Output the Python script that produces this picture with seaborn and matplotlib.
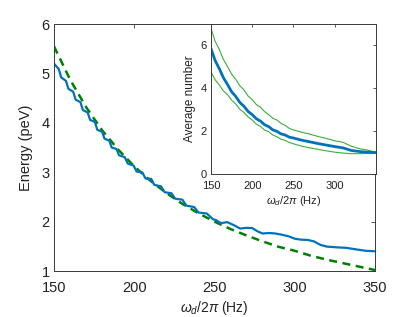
import numpy as np
import pandas as pd
import matplotlib
matplotlib.use("Agg")
import matplotlib.pyplot as plt
import seaborn as sns

# main panel: energy vs drive frequency
freq_blue = [150, 153, 154.5, 157.5, 159, 162, 163.5, 166.5, 168, 171, 172.5, 175.5,
             177, 180, 181.5, 184.5, 186, 189, 190.5, 194.1, 196, 199.6, 201.5, 205.1,
             207, 210.6, 212.5, 216.7, 219, 223.2, 225.5, 230, 232.5, 237.4, 240, 245.2,
             249, 251, 254, 258, 262, 266, 270, 273.5, 277, 280, 284, 288, 292, 296,
             300, 304, 308, 312, 316, 320, 326, 332, 338, 344, 350]
energy_blue = [5.20, 5.09, 4.92, 4.85, 4.69, 4.63, 4.47, 4.42, 4.26, 4.21, 4.06, 4.02,
               3.86, 3.82, 3.68, 3.64, 3.50, 3.47, 3.345, 3.305, 3.175, 3.135, 3.015, 2.995,
               2.875, 2.865, 2.745, 2.715, 2.595, 2.575, 2.465, 2.445, 2.325, 2.295, 2.185, 2.165,
               2.05, 2.03, 1.97, 1.99, 1.93, 1.86, 1.875, 1.87, 1.80, 1.76, 1.77, 1.76, 1.735, 1.705,
               1.655, 1.635, 1.63, 1.60, 1.53, 1.495, 1.48, 1.47, 1.44, 1.41, 1.40]

freq_green = [150, 160, 170, 180, 190, 200, 210, 220, 230, 240, 250,
              260, 270, 280, 290, 300, 310, 320, 330, 340, 350]
energy_green = [5.55, 4.88, 4.32, 3.85, 3.46, 3.12, 2.83, 2.58, 2.36, 2.17, 2.00,
                1.85, 1.72, 1.60, 1.49, 1.41, 1.31, 1.23, 1.16, 1.09, 1.02]

# inset: average number
freq_inset = [150, 155, 160, 165, 170, 175, 180, 185, 190, 195, 200, 205, 210, 215,
              220, 225, 230, 235, 240, 245, 250, 260, 270, 280, 290, 300, 310, 320,
              330, 340, 350]
n_mean = [5.85, 5.30, 4.92, 4.50, 4.18, 3.84, 3.62, 3.34, 3.16, 2.92, 2.77, 2.58, 2.47, 2.30,
          2.21, 2.06, 1.99, 1.87, 1.82, 1.72, 1.68, 1.58, 1.50, 1.42, 1.35, 1.28,
          1.22, 1.10, 1.05, 1.02, 1.00]
n_upper = [6.80, 6.20, 5.82, 5.35, 5.02, 4.66, 4.42, 4.12, 3.92, 3.64, 3.47, 3.24, 3.12, 2.91,
           2.77, 2.60, 2.52, 2.36, 2.27, 2.13, 2.06, 1.95, 1.86, 1.75, 1.66, 1.55,
           1.48, 1.30, 1.18, 1.12, 1.00]
n_lower = [4.76, 4.40, 4.16, 3.88, 3.71, 3.45, 3.27, 3.02, 2.87, 2.66, 2.52, 2.33, 2.22, 2.05,
           1.97, 1.82, 1.74, 1.62, 1.57, 1.47, 1.41, 1.30, 1.22, 1.15, 1.08, 1.02,
           0.98, 0.95, 0.95, 0.96, 0.99]

main_ticks_x = [150, 200, 250, 300, 350]
main_ticks_y = [1, 2, 3, 4, 5, 6]
inset_ticks_x = [150, 200, 250, 300]
inset_ticks_y = [0, 2, 4, 6]

BLUE = "#0072BD"
DGREEN = "#008000"
LGREEN = "#3cae3c"
AXC = "#3a3a3a"


def style_axes(ax, size):
    for s in ax.spines.values():
        s.set_color(AXC)
        s.set_linewidth(0.7)
    ax.tick_params(direction="in", top=True, right=True, length=3, width=0.6,
                   color=AXC, labelsize=size, labelcolor="#222222")


def main():
    sns.set_style("white")
    plt.rcParams["font.family"] = ["Liberation Sans", "DejaVu Sans"]
    plt.rcParams["mathtext.fontset"] = "custom"
    plt.rcParams["mathtext.rm"] = "Liberation Sans"
    plt.rcParams["mathtext.it"] = "Liberation Sans:italic"

    fig = plt.figure(figsize=(4.15, 3.17), dpi=100)
    ax = fig.add_axes([0.130, 0.145, 0.7736, 0.779])

    df_b = pd.DataFrame({"f": freq_blue, "E": energy_blue})
    df_g = pd.DataFrame({"f": freq_green, "E": energy_green})
    sns.lineplot(data=df_g, x="f", y="E", ax=ax, color=DGREEN, lw=1.8, estimator=None)
    ax.lines[-1].set_dashes((3.2, 2.2))
    sns.lineplot(data=df_b, x="f", y="E", ax=ax, color=BLUE, lw=1.6, estimator=None)

    ax.set_xlim(150, 350)
    ax.set_ylim(1, 6)
    ax.set_xticks(main_ticks_x)
    ax.set_yticks(main_ticks_y)
    ax.set_xlabel(r"$\omega_d/2\pi$ (Hz)", fontsize=10, color="#222222", labelpad=3)
    ax.set_ylabel("Energy (peV)", fontsize=10.5, color="#222222", labelpad=6)
    style_axes(ax, 10.5)
    ax.tick_params(axis="x", pad=7)
    ax.tick_params(axis="y", pad=3)

    # inset
    ins = fig.add_axes([0.5084, 0.451, 0.3976, 0.4732])
    df_i = pd.DataFrame({"f": freq_inset, "m": n_mean, "u": n_upper, "l": n_lower})
    sns.lineplot(data=df_i, x="f", y="u", ax=ins, color=LGREEN, lw=0.8, estimator=None)
    sns.lineplot(data=df_i, x="f", y="l", ax=ins, color=LGREEN, lw=0.8, estimator=None)
    sns.lineplot(data=df_i, x="f", y="m", ax=ins, color=BLUE, lw=2.0, estimator=None)
    ins.set_xlim(150, 350)
    ins.set_ylim(0, 7)
    ins.set_xticks(inset_ticks_x)
    ins.set_yticks(inset_ticks_y)
    ins.set_xlabel(r"$\omega_d/2\pi$ (Hz)", fontsize=8, color="#222222", labelpad=2)
    ins.set_ylabel("Average number", fontsize=8.5, color="#222222", labelpad=3)
    style_axes(ins, 8)
    ins.tick_params(length=2.5)
    ins.tick_params(axis="x", pad=5)
    ins.tick_params(axis="y", pad=3)

    fig.savefig("out.png", dpi=100)


if __name__ == "__main__":
    main()
